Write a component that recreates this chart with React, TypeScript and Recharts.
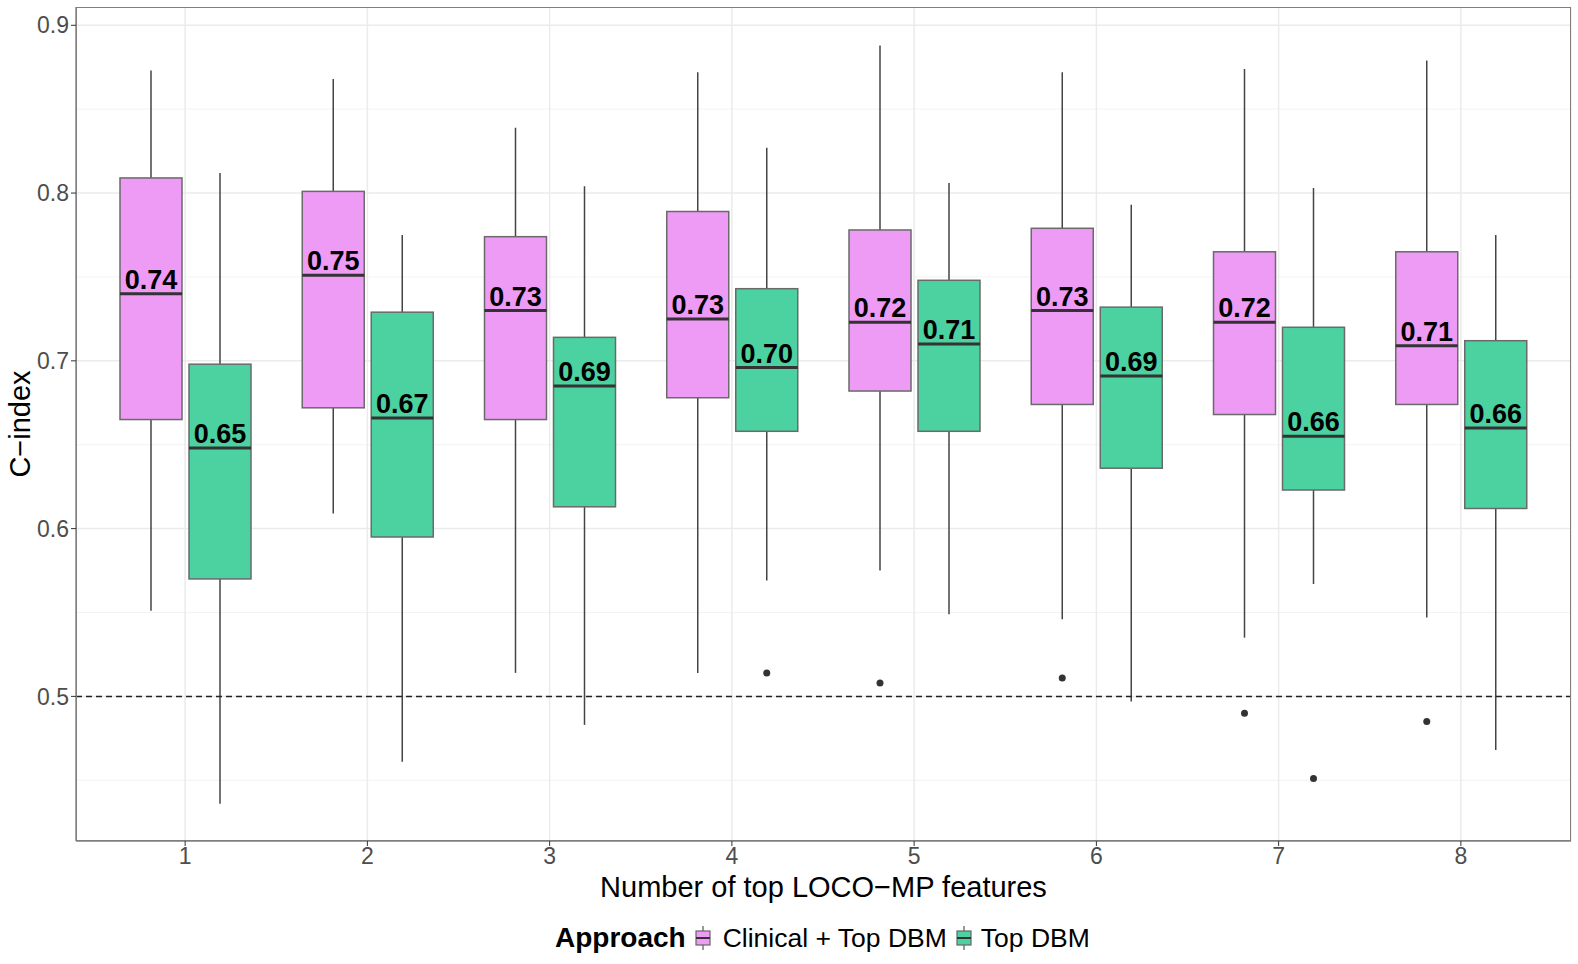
import React from 'react';
import { BarChart, Bar, XAxis, YAxis, CartesianGrid, ReferenceLine } from 'recharts';

// number of top LOCO-MP features
const categories = ['1', '2', '3', '4', '5', '6', '7', '8'];

// Clinical + Top DBM
const clinMin = [0.551, 0.609, 0.514, 0.514, 0.575, 0.546, 0.535, 0.547];
const clinQ1 = [0.665, 0.672, 0.665, 0.678, 0.682, 0.674, 0.668, 0.674];
const clinMed = [0.740, 0.751, 0.730, 0.725, 0.723, 0.730, 0.723, 0.709];
const clinQ3 = [0.809, 0.801, 0.774, 0.789, 0.778, 0.779, 0.765, 0.765];
const clinMax = [0.873, 0.868, 0.839, 0.872, 0.888, 0.872, 0.874, 0.879];
const clinOut = [[], [], [], [], [0.508], [0.511], [0.490], [0.485]];
const clinLabels = ['0.74', '0.75', '0.73', '0.73', '0.72', '0.73', '0.72', '0.71'];

// Top DBM
const dbmMin = [0.436, 0.461, 0.483, 0.569, 0.549, 0.497, 0.567, 0.468];
const dbmQ1 = [0.570, 0.595, 0.613, 0.658, 0.658, 0.636, 0.623, 0.612];
const dbmMed = [0.648, 0.666, 0.685, 0.696, 0.710, 0.691, 0.655, 0.660];
const dbmQ3 = [0.698, 0.729, 0.714, 0.743, 0.748, 0.732, 0.720, 0.712];
const dbmMax = [0.812, 0.775, 0.804, 0.827, 0.806, 0.793, 0.803, 0.775];
const dbmOut = [[], [], [], [0.514], [], [], [0.451], []];
const dbmLabels = ['0.65', '0.67', '0.69', '0.70', '0.71', '0.69', '0.66', '0.66'];

const yTicks = [0.5, 0.6, 0.7, 0.8, 0.9];
const yMinor = [0.45, 0.55, 0.65, 0.75, 0.85];

const PINK = '#EE9BF5';
const GREEN = '#4CD2A0';
const FONT = '"Liberation Sans", Arial, Helvetica, sans-serif';

type Stats = { min: number; q1: number; med: number; q3: number; max: number; out: number[]; label: string };

const rows = categories.map((cat, i) => ({
  cat,
  clin: [clinQ1[i], clinQ3[i]],
  dbm: [dbmQ1[i], dbmQ3[i]],
  clinStats: { min: clinMin[i], q1: clinQ1[i], med: clinMed[i], q3: clinQ3[i], max: clinMax[i], out: clinOut[i], label: clinLabels[i] },
  dbmStats: { min: dbmMin[i], q1: dbmQ1[i], med: dbmMed[i], q3: dbmQ3[i], max: dbmMax[i], out: dbmOut[i], label: dbmLabels[i] },
}));

// draws a whole box (whiskers, box, median, outliers, label) from the range bar q1..q3
function boxShape(key: 'clinStats' | 'dbmStats', fill: string) {
  return (props: any) => {
    const { x, y, width, height, payload, index } = props;
    const s: Stats = (payload && payload[key]) || rows[index][key];
    const top = Math.min(y, y + height);
    const h = Math.abs(height);
    const k = h / (s.q3 - s.q1);
    const yOf = (v: number) => top + (s.q3 - v) * k;
    const cx = x + width / 2;
    const ym = yOf(s.med);
    return (
      <g>
        <line x1={cx} x2={cx} y1={yOf(s.max)} y2={top} stroke="#444" strokeWidth={1.5} />
        <line x1={cx} x2={cx} y1={top + h} y2={yOf(s.min)} stroke="#444" strokeWidth={1.5} />
        <rect x={x} y={top} width={width} height={h} fill={fill} stroke="#6a6a6a" strokeWidth={1.5} />
        <line x1={x} x2={x + width} y1={ym} y2={ym} stroke="#333" strokeWidth={3} />
        {s.out.map((o, j) => (
          <circle key={j} cx={cx} cy={yOf(o)} r={3.5} fill="#333" />
        ))}
        <text x={cx} y={ym - 5} textAnchor="middle" fontFamily={FONT} fontWeight="bold" fontSize={27} fill="#000">
          {s.label}
        </text>
      </g>
    );
  };
}

function KeyGlyph({ fill }: { fill: string }) {
  return (
    <svg width={16} height={24} style={{ display: 'block' }}>
      <line x1={8} x2={8} y1={0} y2={24} stroke="#555" strokeWidth={1.2} />
      <rect x={1} y={5} width={14} height={14} fill={fill} stroke="#666" strokeWidth={1.2} />
      <line x1={1} x2={15} y1={12} y2={12} stroke="#333" strokeWidth={2} />
    </svg>
  );
}

export default function App() {
  const tickStyle = { fontSize: 23, fill: '#4D4D4D', fontFamily: FONT };
  const domain: [number, number] = [0.4138, 0.9109];
  return (
    <div style={{ position: 'absolute', left: 0, top: 0, width: 1578, height: 964, background: '#fff', fontFamily: FONT }}>
      <BarChart
        width={1578}
        height={964}
        data={rows}
        margin={{ top: 7, right: 7, bottom: 63, left: 0 }}
        barSize={62}
        barGap={7}
      >
        <CartesianGrid vertical={false} horizontalValues={yMinor} stroke="#F3F3F3" strokeWidth={1} />
        <CartesianGrid horizontalValues={yTicks} stroke="#EBEBEB" strokeWidth={1.5} />
        <XAxis
          dataKey="cat"
          height={60}
          padding={{ left: 18, right: 19 }}
          tick={tickStyle}
          tickSize={5}
          tickLine={{ stroke: '#333' }}
          axisLine={{ stroke: '#7f7f7f', strokeWidth: 1.3 }}
          label={{ value: 'Number of top LOCO\u2212MP features', position: 'insideBottom', offset: 4, fontSize: 29, fill: '#000', fontFamily: FONT }}
        />
        <YAxis
          width={76}
          type="number"
          domain={domain}
          ticks={yTicks}
          allowDataOverflow
          tickFormatter={(v: number) => v.toFixed(1)}
          tick={tickStyle}
          tickSize={5}
          tickLine={{ stroke: '#333' }}
          axisLine={{ stroke: '#7f7f7f', strokeWidth: 1.3 }}
          label={{
            content: (p: any) => {
              const vb = p.viewBox || { x: 0, y: 7, width: 76, height: 834 };
              return (
                <text
                  transform={`translate(${vb.x + 20},${vb.y + vb.height / 2}) rotate(-90)`}
                  textAnchor="middle"
                  dominantBaseline="central"
                  fontSize={29}
                  fontFamily={FONT}
                  fill="#000"
                >
                  C{'\u2212'}index
                </text>
              );
            },
          }}
        />
        <Bar dataKey="clin" name="Clinical + Top DBM" fill={PINK} isAnimationActive={false} shape={boxShape('clinStats', PINK)} />
        <Bar dataKey="dbm" name="Top DBM" fill={GREEN} isAnimationActive={false} shape={boxShape('dbmStats', GREEN)} />
        <ReferenceLine y={0.5} stroke="#222" strokeWidth={1.5} strokeDasharray="6 4" />
      </BarChart>
      {/* panel border */}
      <div
        style={{
          position: 'absolute',
          left: 76,
          top: 7,
          width: 1495,
          height: 834,
          boxSizing: 'border-box',
          border: '1.3px solid #7f7f7f',
          pointerEvents: 'none',
        }}
      />
      <div
        style={{
          position: 'absolute',
          left: 555,
          top: 923,
          height: 30,
          display: 'flex',
          alignItems: 'center',
          whiteSpace: 'nowrap',
          color: '#000',
        }}
      >
        <span style={{ fontWeight: 'bold', fontSize: 28, marginRight: 9 }}>Approach</span>
        <KeyGlyph fill={PINK} />
        <span style={{ fontSize: 26.5, marginLeft: 12, marginRight: 9 }}>Clinical + Top DBM</span>
        <KeyGlyph fill={GREEN} />
        <span style={{ fontSize: 26.5, marginLeft: 9 }}>Top DBM</span>
      </div>
    </div>
  );
}
